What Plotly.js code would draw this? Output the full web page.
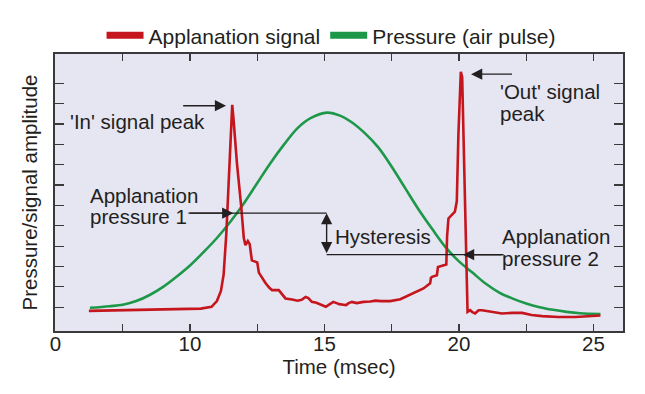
<!DOCTYPE html>
<html>
<head>
<meta charset="utf-8">
<script src="https://cdn.plot.ly/plotly-3.0.1.min.js"></script>
<style>html,body{margin:0;padding:0;background:#fff;}#chart{width:645px;height:394px;}</style>
</head>
<body>
<div id="chart"></div>
<script>
// Applanation signal (red)
var signalTime = [6.24, 7.5, 9.0, 10.4, 10.8, 11.0, 11.15, 11.25, 11.35, 11.45, 11.57, 11.62, 11.75, 11.9, 12.0, 12.06, 12.15, 12.22, 12.3, 12.4, 12.5, 12.56, 12.65, 12.8, 12.95, 13.05, 13.3, 13.45, 13.55, 13.8, 14.0, 14.15, 14.3, 14.4, 14.53, 14.7, 14.85, 15.05, 15.2, 15.33, 15.45, 15.55, 15.7, 15.8, 15.9, 16.02, 16.2, 16.45, 16.7, 16.9, 17.1, 17.44, 17.82, 18.1, 18.31, 18.5, 18.68, 18.93, 18.96, 19.0, 19.18, 19.22, 19.43, 19.53, 19.56, 19.61, 19.85, 19.92, 19.98, 20.07, 20.12, 20.32, 20.42, 20.5, 20.6, 20.73, 20.86, 21.2, 21.6, 22.0, 22.35, 22.7, 23.09, 23.7, 24.33, 25.26];
var signalAmp = [0.82, 0.85, 0.88, 0.93, 1.02, 1.3, 1.8, 2.6, 4.6, 7.5, 10.94, 10.2, 8.0, 6.0, 4.4, 4.05, 4.25, 4.1, 3.3, 3.25, 3.2, 2.7, 2.5, 2.2, 1.95, 1.84, 1.84, 1.6, 1.43, 1.38, 1.32, 1.36, 1.5, 1.45, 1.26, 1.22, 1.15, 1.02, 1.15, 1.26, 1.2, 1.15, 1.12, 1.1, 1.2, 1.26, 1.2, 1.26, 1.28, 1.32, 1.3, 1.3, 1.39, 1.55, 1.67, 1.8, 1.92, 2.17, 2.45, 2.49, 2.57, 2.98, 3.07, 3.1, 4.5, 5.36, 5.7, 6.2, 9.5, 12.57, 12.3, 0.77, 0.85, 0.75, 0.69, 0.85, 0.85, 0.78, 0.69, 0.72, 0.72, 0.62, 0.56, 0.52, 0.52, 0.59];
// Pressure (air pulse) (green)
var pressureTime = [6.28, 7.0, 7.5, 8.0, 8.5, 9.0, 9.5, 10.0, 10.5, 11.0, 11.5, 12.0, 12.5, 13.0, 13.5, 14.0, 14.5, 15.09, 15.6, 16.0, 16.5, 17.0, 17.5, 18.0, 18.5, 19.0, 19.5, 20.0, 20.5, 21.0, 21.5, 22.0, 22.5, 23.0, 23.5, 24.0, 24.5, 25.26];
var pressureAmp = [0.97, 1.05, 1.12, 1.3, 1.6, 2.0, 2.5, 3.05, 3.7, 4.4, 5.2, 6.1, 7.1, 8.1, 9.0, 9.8, 10.3, 10.56, 10.4, 10.1, 9.55, 8.85, 7.9, 6.85, 5.8, 4.85, 3.95, 3.25, 2.7, 2.15, 1.72, 1.42, 1.18, 1.0, 0.87, 0.77, 0.7, 0.66];
// Axis ticks
var xTickVals = [5, 7.5, 10, 12.5, 15, 17.5, 20, 22.5, 25];
var xTickText = ['0', '', '10', '', '15', '', '20', '', '25'];
var yTickVals = [1, 2, 3, 4, 5, 6, 7, 8, 9, 10, 11, 12];
var seriesNames = ['Applanation signal', 'Pressure (air pulse)'];

var RED = '#c5161d', GREEN = '#1d9848', INK = '#231f20';
var FONT = 'Liberation Sans, Arial, Helvetica, sans-serif';

var traces = [
  {x: pressureTime, y: pressureAmp, mode: 'lines', line: {color: GREEN, width: 2.6, shape: 'spline', smoothing: 1}, showlegend: false, hoverinfo: 'skip'},
  {x: signalTime, y: signalAmp, mode: 'lines', line: {color: RED, width: 2.6}, showlegend: false, hoverinfo: 'skip'},
  {x: [null], y: [null], mode: 'lines', name: seriesNames[0], line: {color: RED, width: 7}},
  {x: [null], y: [null], mode: 'lines', name: seriesNames[1], line: {color: GREEN, width: 7}}
];

function txt(t, x, y) {
  return {text: t, x: x, y: y, xref: 'x', yref: 'y', xanchor: 'left', yanchor: 'middle', showarrow: false, font: {size: 20.5, color: INK, family: FONT}};
}
function arr(x, y, ax, ay, both) {
  var a = {text: '', x: x, y: y, ax: ax, ay: ay, xref: 'x', yref: 'y', axref: 'x', ayref: 'y', showarrow: true, arrowhead: 2, arrowsize: 1.6, arrowwidth: 1.4, arrowcolor: INK, standoff: 0, startstandoff: 0};
  if (both) { a.arrowside = 'end+start'; a.startarrowhead = 2; a.startarrowsize = 1.6; }
  return a;
}

var layout = {
  width: 645, height: 394,
  margin: {l: 55, r: 22, t: 54, b: 63},
  paper_bgcolor: '#ffffff',
  plot_bgcolor: '#e6e5f2',
  font: {family: FONT, size: 20.5, color: INK},
  showlegend: true,
  legend: {orientation: 'h', x: 0.486, xanchor: 'center', y: 1.066, yanchor: 'middle', font: {size: 21, color: INK}, bgcolor: 'rgba(0,0,0,0)', itemwidth: 37, tracegroupgap: 0},
  xaxis: {
    range: [4.98, 26.1], tickmode: 'array', tickvals: xTickVals, ticktext: xTickText,
    ticks: 'inside', ticklen: 7, tickwidth: 1.2, tickcolor: '#3a3a3a',
    showline: true, linecolor: '#3a3a3a', linewidth: 1.6, mirror: 'ticks',
    showgrid: false, zeroline: false, tickfont: {size: 20.5, color: INK},
    ticklabelstandoff: -6,
    title: {text: 'Time (msec)', font: {size: 20.5, color: INK}, standoff: 0}
  },
  yaxis: {
    range: [-0.17, 13.44], tickmode: 'array', tickvals: yTickVals,
    ticks: 'inside', ticklen: 9, tickwidth: 1.2, tickcolor: '#3a3a3a',
    showline: true, linecolor: '#3a3a3a', linewidth: 1.6, mirror: 'ticks',
    showgrid: false, zeroline: false, showticklabels: false,
    title: {text: 'Pressure/signal amplitude', font: {size: 20.5, color: INK}, standoff: 10}
  },
  shapes: [
    {type: 'line', xref: 'x', yref: 'y', x0: 9.94, x1: 15.08, y0: 5.62, y1: 5.62, line: {color: INK, width: 1.3}},
    {type: 'line', xref: 'x', yref: 'y', x0: 15.08, x1: 21.66, y0: 3.58, y1: 3.58, line: {color: INK, width: 1.3}}
  ],
  annotations: [
    txt("'In' signal peak", 5.45, 10.11),
    arr(11.34, 10.9, 9.69, 10.9),
    txt('Applanation', 6.22, 6.51),
    txt('pressure 1', 6.22, 5.44),
    arr(11.61, 5.62, 9.94, 5.62),
    arr(15.08, 5.62, 15.08, 3.58, true),
    txt('Hysteresis', 15.32, 4.46),
    arr(20.15, 3.58, 21.66, 3.58),
    txt('Applanation', 21.52, 4.46),
    txt('pressure 2', 21.52, 3.40),
    arr(20.45, 12.45, 22.03, 12.45),
    txt("'Out' signal", 21.46, 11.62),
    txt('peak', 21.46, 10.53)
  ]
};

Plotly.newPlot('chart', traces, layout, {staticPlot: true, displayModeBar: false});
</script>
</body>
</html>
